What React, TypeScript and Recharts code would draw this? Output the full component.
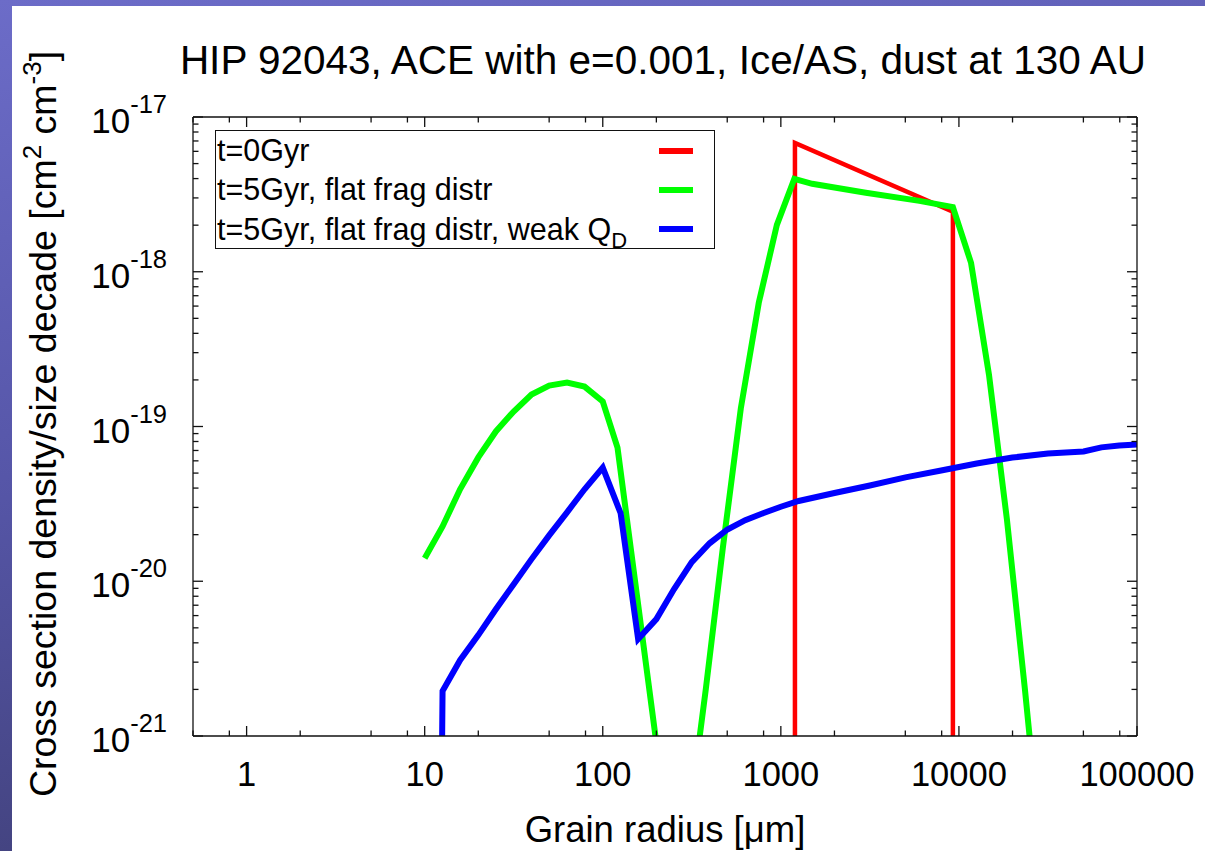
import { LineChart, Line, XAxis, YAxis } from "recharts";

// t=0 Gyr: initial size distribution (box between ~1.2 mm and ~9 mm)
const RED_T0 = [
  { x: 1200, y: 1e-24 },
  { x: 1200, y: 6.8e-18 },
  { x: 9250, y: 2.44e-18 },
  { x: 9250, y: 1e-24 },
];

// t=5 Gyr, flat fragment distribution
const GREEN_FLAT = [
  { x: 10, y: 1.41e-20 },
  { x: 12.6, y: 2.26e-20 },
  { x: 15.8, y: 3.93e-20 },
  { x: 20, y: 6.31e-20 },
  { x: 25.1, y: 9.29e-20 },
  { x: 31.6, y: 1.25e-19 },
  { x: 39.8, y: 1.61e-19 },
  { x: 50, y: 1.84e-19 },
  { x: 63, y: 1.92e-19 },
  { x: 79, y: 1.81e-19 },
  { x: 100, y: 1.45e-19 },
  { x: 121, y: 7.3e-20 },
  { x: 200, y: 9.0e-22 },
  { x: 240, y: 1e-23 },
  { x: 300, y: 2.5e-22 },
  { x: 379, y: 2.01e-21 },
  { x: 472, y: 1.63e-20 },
  { x: 596, y: 1.31e-19 },
  { x: 752, y: 6.31e-19 },
  { x: 950, y: 2.01e-18 },
  { x: 1190, y: 3.98e-18 },
  { x: 1500, y: 3.7e-18 },
  { x: 3000, y: 3.24e-18 },
  { x: 6000, y: 2.87e-18 },
  { x: 9250, y: 2.62e-18 },
  { x: 11700, y: 1.14e-18 },
  { x: 14750, y: 2.16e-19 },
  { x: 18600, y: 2.51e-20 },
  { x: 23500, y: 1.98e-21 },
  { x: 29600, y: 1.36e-22 },
  { x: 36000, y: 1e-23 },
];

// t=5 Gyr, flat fragment distribution, weak Q_D
const BLUE_WEAK = [
  { x: 12.3, y: 1e-22 },
  { x: 12.6, y: 1.95e-21 },
  { x: 15.8, y: 3.09e-21 },
  { x: 20, y: 4.49e-21 },
  { x: 25.1, y: 6.59e-21 },
  { x: 31.6, y: 9.57e-21 },
  { x: 39.8, y: 1.39e-20 },
  { x: 50, y: 1.98e-20 },
  { x: 63, y: 2.79e-20 },
  { x: 79, y: 3.93e-20 },
  { x: 100, y: 5.43e-20 },
  { x: 126, y: 2.75e-20 },
  { x: 158, y: 4.23e-21 },
  { x: 200, y: 5.69e-21 },
  { x: 251, y: 8.87e-21 },
  { x: 316, y: 1.33e-20 },
  { x: 398, y: 1.76e-20 },
  { x: 501, y: 2.16e-20 },
  { x: 631, y: 2.48e-20 },
  { x: 794, y: 2.75e-20 },
  { x: 1000, y: 3.03e-20 },
  { x: 1259, y: 3.3e-20 },
  { x: 2000, y: 3.72e-20 },
  { x: 3162, y: 4.16e-20 },
  { x: 5012, y: 4.69e-20 },
  { x: 7943, y: 5.2e-20 },
  { x: 12589, y: 5.77e-20 },
  { x: 19953, y: 6.3e-20 },
  { x: 31623, y: 6.7e-20 },
  { x: 50119, y: 6.9e-20 },
  { x: 63096, y: 7.33e-20 },
  { x: 79433, y: 7.54e-20 },
  { x: 100000, y: 7.65e-20 },
];

const SERIES = [
  { name: "t=0Gyr", data: RED_T0, color: "#ff0000", width: 4.5 },
  { name: "t=5Gyr, flat frag distr", data: GREEN_FLAT, color: "#00ff00", width: 6 },
  { name: "t=5Gyr, flat frag distr, weak Q", sub: "D", data: BLUE_WEAK, color: "#0000ff", width: 6 },
];

const X_DOMAIN = [0.5, 100000];
const Y_DOMAIN = [1e-21, 1e-17];
const X_DECADES = [0.1, 1, 10, 100, 1000, 10000, 100000];
const X_MINOR = [2, 5, 8];
const Y_DECADES = [1e-21, 1e-20, 1e-19, 1e-18, 1e-17];
const Y_MINOR = [2, 3, 4, 5, 6, 7, 8, 9];

const inRange = (v: number, d: number[]) => v >= d[0] * 0.999 && v <= d[1] * 1.001;
const X_TICKS = X_DECADES.flatMap((d) => [d, ...X_MINOR.map((m) => m * d)])
  .filter((v) => inRange(v, X_DOMAIN))
  .sort((a, b) => a - b);
const Y_TICKS = Y_DECADES.flatMap((d) => [d, ...Y_MINOR.map((m) => m * d)])
  .filter((v) => inRange(v, Y_DOMAIN))
  .sort((a, b) => a - b);

const FONT = "'Liberation Sans', Arial, Helvetica, sans-serif";
const INK = "#111";

const isMajor = (v: number) => {
  const l = Math.log10(v);
  return Math.abs(l - Math.round(l)) < 1e-6;
};

const makeXTick = (side: "bottom" | "top") => (props: any) => {
  const { x, y, payload } = props;
  const major = isMajor(payload.value);
  const len = major ? 10 : 5.5;
  const dir = side === "bottom" ? -1 : 1;
  return (
    <g>
      <line x1={x} y1={y} x2={x} y2={y + dir * len} stroke={INK} strokeWidth={1.3} />
      {side === "bottom" && major && (
        <text x={x} y={y + 50} textAnchor="middle" fontSize={34.5} fontFamily={FONT} fill="#000">
          {String(Math.round(payload.value * 10) / 10)}
        </text>
      )}
    </g>
  );
};

const makeYTick = (side: "left" | "right") => (props: any) => {
  const { x, y, payload } = props;
  const major = isMajor(payload.value);
  const len = major ? 10 : 5.5;
  const dir = side === "left" ? 1 : -1;
  return (
    <g>
      <line x1={x} y1={y} x2={x + dir * len} y2={y} stroke={INK} strokeWidth={1.3} />
      {side === "left" && major && (
        <text x={x - 26} y={y + 16} textAnchor="end" fontSize={35} fontFamily={FONT} fill="#000">
          <tspan>10</tspan>
          <tspan dy={-20} fontSize={25.5}>
            {String(Math.round(Math.log10(payload.value)))}
          </tspan>
        </text>
      )}
    </g>
  );
};

const axisCommon = {
  type: "number" as const,
  scale: "log" as const,
  interval: 0 as const,
  allowDataOverflow: true,
  tickSize: 0,
  tickMargin: 0,
  tickLine: false,
  axisLine: { stroke: INK, strokeWidth: 1.3 },
};

export default function App() {
  return (
    <div
      style={{
        position: "absolute",
        left: 0,
        top: 0,
        width: 1205,
        height: 851,
        overflow: "hidden",
        background: "linear-gradient(170deg, #6c6cc8 0%, #5656a8 45%, #3a3a6c 100%)",
      }}
    >
      <div style={{ position: "absolute", left: 12, top: 6, right: 0, bottom: 0, background: "#fff" }} />
      <div style={{ position: "absolute", left: 0, top: 0 }}>
        <LineChart width={1205} height={851} margin={{ top: 116, right: 67, bottom: 114, left: 192 }}>
          <XAxis
            {...axisCommon}
            xAxisId="bottom"
            dataKey="x"
            domain={X_DOMAIN}
            ticks={X_TICKS}
            height={1}
            tick={makeXTick("bottom")}
          />
          <XAxis
            {...axisCommon}
            xAxisId="top"
            orientation="top"
            dataKey="x"
            domain={X_DOMAIN}
            ticks={X_TICKS}
            height={1}
            tick={makeXTick("top")}
          />
          <YAxis
            {...axisCommon}
            yAxisId="left"
            domain={Y_DOMAIN}
            ticks={Y_TICKS}
            width={1}
            tick={makeYTick("left")}
          />
          <YAxis
            {...axisCommon}
            yAxisId="right"
            orientation="right"
            domain={Y_DOMAIN}
            ticks={Y_TICKS}
            width={1}
            tick={makeYTick("right")}
          />
          {SERIES.map((s) => (
            <Line
              key={s.name}
              xAxisId="bottom"
              yAxisId="left"
              data={s.data}
              dataKey="y"
              name={s.name}
              type="linear"
              stroke={s.color}
              strokeWidth={s.width}
              dot={false}
              activeDot={false}
              isAnimationActive={false}
            />
          ))}
        </LineChart>
      </div>

      <svg
        width={1205}
        height={851}
        style={{ position: "absolute", left: 0, top: 0, pointerEvents: "none" }}
        fontFamily={FONT}
      >
        <text x={663} y={74} textAnchor="middle" fontSize={40.5} fill="#000">
          HIP 92043, ACE with e=0.001, Ice/AS, dust at 130 AU
        </text>
        <text x={665} y={842} textAnchor="middle" fontSize={36.5} fill="#000">
          Grain radius [μm]
        </text>
        <text transform="translate(56, 424) rotate(-90)" textAnchor="middle" fontSize={37.5} fill="#000">
          <tspan>Cross section density/size decade [cm</tspan>
          <tspan dy={-15} fontSize={26}>2</tspan>
          <tspan dy={15}> cm</tspan>
          <tspan dy={-15} fontSize={26}>-3</tspan>
          <tspan dy={15}>]</tspan>
        </text>
      </svg>

      <div
        style={{
          position: "absolute",
          left: 215,
          top: 130,
          width: 500,
          height: 119,
          boxSizing: "border-box",
          border: `1.5px solid ${INK}`,
          background: "#fff",
          fontFamily: FONT,
          fontSize: 30.5,
          color: "#000",
        }}
      >
        {SERIES.map((s) => (
          <div key={s.name} style={{ position: "relative", height: 39.3, lineHeight: "39.3px", paddingLeft: 1, whiteSpace: "nowrap" }}>
            {s.name}
            {s.sub && <sub style={{ fontSize: 22, verticalAlign: -8 }}>{s.sub}</sub>}
            <div
              style={{
                position: "absolute",
                left: 443,
                top: 16.5,
                width: 34,
                height: 6,
                background: s.color,
              }}
            />
          </div>
        ))}
      </div>
    </div>
  );
}
